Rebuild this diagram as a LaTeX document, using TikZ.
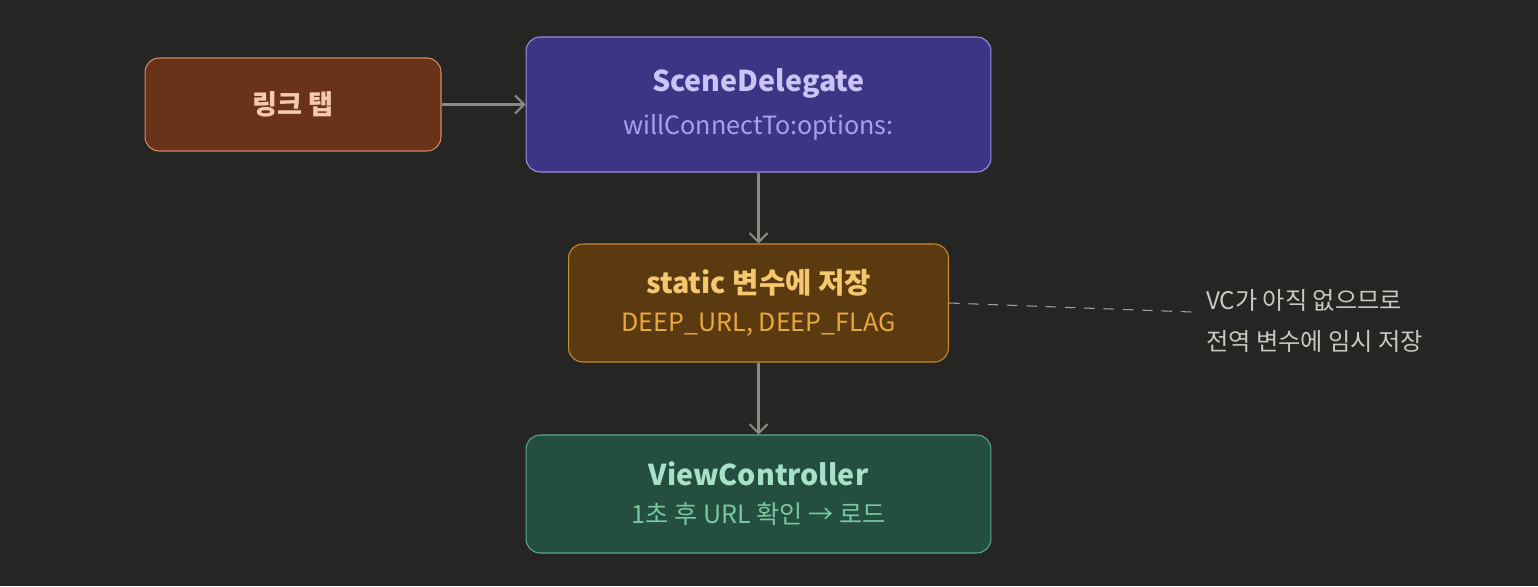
\documentclass[tikz,border=0pt]{standalone}
\usepackage{fontspec}
\setmainfont{Noto Sans CJK KR}
\usepackage{xcolor}
\usetikzlibrary{arrows.meta}

\definecolor{bgcol}{HTML}{252523}
\definecolor{linkfill}{HTML}{6A3219}
\definecolor{linkdraw}{HTML}{D08A6A}
\definecolor{linktext}{HTML}{F5C8B0}
\definecolor{scenefill}{HTML}{3C3585}
\definecolor{scenedraw}{HTML}{9A90E0}
\definecolor{scenetext}{HTML}{CAC3F5}
\definecolor{scenesub}{HTML}{A99EF0}
\definecolor{staticfill}{HTML}{5C3A10}
\definecolor{staticdraw}{HTML}{C88A30}
\definecolor{statictext}{HTML}{F5C870}
\definecolor{staticsub}{HTML}{E8A840}
\definecolor{vcfill}{HTML}{234E40}
\definecolor{vcdraw}{HTML}{5AA888}
\definecolor{vctext}{HTML}{A8E0C8}
\definecolor{vcsub}{HTML}{78C8A0}
\definecolor{edgecol}{HTML}{8A8A85}
\definecolor{notecol}{HTML}{C8C8C0}

\newcommand{\ttl}[1]{{\bfseries\fontsize{16.3}{19}\selectfont #1}}
\newcommand{\sub}[1]{{\fontsize{14.3}{17}\selectfont #1}}

\begin{document}
\begin{tikzpicture}[x=0.02cm,y=-0.02cm,
                >={Straight Barb[width=3.6mm,length=1.8mm]},
                line width=1.2pt,
                box/.style = {draw, rounded corners=8pt, line width=0.6pt, align=center, inner sep=0pt}]
            \fill[bgcol] (0,0) rectangle (1538,586);
            \useasboundingbox (0,0) rectangle (1538,586);
            % Nodes
            \node[box, fill=linkfill, draw=linkdraw, text=linktext,
                  minimum width=5.92cm, minimum height=1.86cm] (tap) at (293,104.5)
                  {\bfseries\fontsize{15.5}{18}\selectfont 링크 탭};
            \node[box, fill=scenefill, draw=scenedraw, text=scenetext,
                  minimum width=9.3cm, minimum height=2.7cm] (scene) at (758.5,104.5)
                  {\ttl{SceneDelegate}\\[8.5pt]\textcolor{scenesub}{\sub{willConnectTo:options:}}};
            \node[box, fill=staticfill, draw=staticdraw, text=statictext,
                  minimum width=7.6cm, minimum height=2.36cm] (store) at (758.5,303)
                  {\ttl{static 변수에 저장}\\[8.5pt]\textcolor{staticsub}{\sub{DEEP\_URL, DEEP\_FLAG}}};
            \node[box, fill=vcfill, draw=vcdraw, text=vctext,
                  minimum width=9.3cm, minimum height=2.36cm] (vc) at (758.5,494)
                  {\ttl{ViewController}\\[8.5pt]\textcolor{vcsub}{\sub{1초 후 URL 확인 → 로드}}};
            \node[text=notecol, align=left, anchor=west, inner sep=0pt,
                  font=\fontsize{13.8}{23}\selectfont] (note) at (1205,321)
                  {VC가 아직 없으므로\\전역 변수에 임시 저장};
            \coordinate (noteend) at (1192,312);

            %Edges
            \draw[->, edgecol] (tap) -- (scene);
            \draw[->, edgecol] (scene) -- (store);
            \draw[->, edgecol] (store) -- (vc);
            \draw[edgecol!80, line width=0.6pt, dash pattern=on 6pt off 5pt] (store.east) -- (noteend);
        \end{tikzpicture}
\end{document}
